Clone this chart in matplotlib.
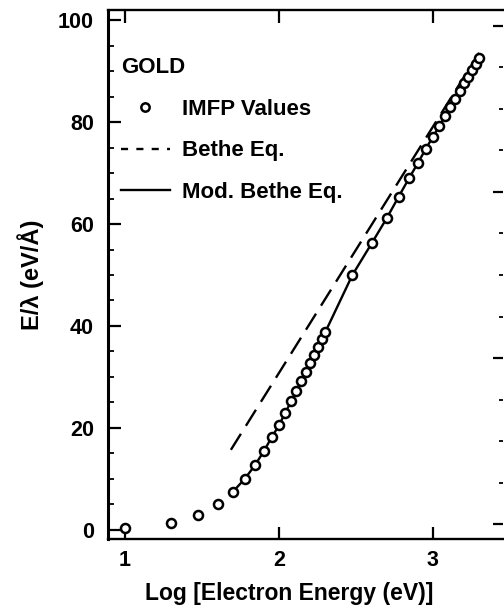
import matplotlib
matplotlib.use("Agg")
import matplotlib.pyplot as plt
from matplotlib.lines import Line2D
from matplotlib.ticker import MultipleLocator

# ---- data ----
log_energy = [1.000, 1.301, 1.477, 1.602, 1.699, 1.778, 1.845, 1.903, 1.954, 2.000,
              2.041, 2.079, 2.114, 2.146, 2.176, 2.204, 2.230, 2.255, 2.279, 2.301,
              2.477, 2.602, 2.699, 2.778, 2.845, 2.903, 2.954, 3.000, 3.041, 3.079,
              3.114, 3.146, 3.176, 3.204, 3.230, 3.255, 3.279, 3.301]
imfp_values = [0.3, 1.3, 2.9, 5.1, 7.4, 10.0, 12.7, 15.5, 18.2, 20.5,
               22.9, 25.2, 27.3, 29.3, 31.0, 32.7, 34.4, 35.9, 37.4, 38.8,
               50.0, 56.2, 61.1, 65.4, 69.0, 72.0, 74.8, 77.1, 79.2, 81.2,
               82.9, 84.6, 86.1, 87.6, 88.9, 90.2, 91.4, 92.5]

mod_bethe_x = [1.699, 1.778, 1.845, 1.903, 1.954, 2.000, 2.079, 2.146, 2.204, 2.255,
               2.301, 2.477, 2.602, 2.699, 2.778, 2.845, 2.903, 2.954, 3.000, 3.079,
               3.146, 3.204, 3.255, 3.301]
mod_bethe_y = [7.4, 10.0, 12.7, 15.5, 18.2, 20.5, 25.2, 29.3, 32.7, 35.9,
               38.8, 50.0, 56.2, 61.1, 65.4, 69.0, 72.0, 74.8, 77.1, 81.2,
               84.6, 87.6, 90.2, 92.8]

bethe_x = [1.688, 3.300]
bethe_y = [15.7, 93.6]

x_ticks = [1, 2, 3]
y_ticks = [0, 20, 40, 60, 80, 100]

title_text = "GOLD"
legend_labels = ["IMFP Values", "Bethe Eq.", "Mod. Bethe Eq."]
x_label = "Log [Electron Energy (eV)]"
y_label = "E/\u03bb (eV/\u00c5)"

plt.rcParams['font.family'] = ['Liberation Sans', 'DejaVu Sans']
plt.rcParams['font.weight'] = 'bold'
plt.rcParams['axes.labelweight'] = 'bold'

W, H = 504, 607
fig = plt.figure(figsize=(W / 100, H / 100), dpi=100)
L, R, T, B = 108, 503, 10, 539
ax = fig.add_axes([L / W, 1 - B / H, (R - L) / W, (B - T) / H])

ax.plot(bethe_x, bethe_y, color='black', lw=1.7, dashes=(8, 4))
ax.plot(mod_bethe_x, mod_bethe_y, color='black', lw=1.7)
ax.plot(log_energy, imfp_values, 'o', ms=6.5, mfc='white', mec='black', mew=1.8)

ax.set_xlim(0.89, 3.455)
ax.set_ylim(-1.8, 102)
ax.set_xticks(x_ticks)
ax.set_yticks(y_ticks)
ax.yaxis.set_minor_locator(MultipleLocator(5))
ax.tick_params(axis='both', which='major', direction='in', length=9, width=1.6,
               labelsize=15.5, top=True, right=False)
ax.tick_params(axis='y', which='minor', direction='in', length=4, width=1.3)
ax.tick_params(axis='x', pad=8)
ax.tick_params(axis='y', pad=10)
ax.spines['left'].set_linewidth(2.2)
for s in ['top', 'bottom']:
    ax.spines[s].set_linewidth(1.7)
ax.spines['right'].set_visible(False)

# right-hand secondary scale (ticks only)
ax2 = ax.twinx()
ax2.set_ylim(-0.9, 30.96)
ax2.yaxis.set_major_locator(MultipleLocator(10))
ax2.yaxis.set_minor_locator(MultipleLocator(2.5))
ax2.tick_params(axis='y', which='major', direction='in', length=7, width=1.6, labelright=False)
ax2.tick_params(axis='y', which='minor', direction='in', length=3, width=1.3)
for s in ax2.spines.values():
    s.set_visible(False)

ax.set_xlabel(x_label, fontsize=16.5, fontweight='bold')
ax.xaxis.set_label_coords((289 - L) / (R - L), -0.081)
ax.set_ylabel(y_label, fontsize=17, fontweight='bold', labelpad=10)

handles = [
    Line2D([], [], ls='none', marker='o', ms=6, mfc='white', mec='black', mew=1.8),
    Line2D([], [], color='black', lw=1.7, dashes=(3, 3.5)),
    Line2D([], [], color='black', lw=1.7),
]
leg = ax.legend(handles, legend_labels, title=title_text, loc='upper left',
                bbox_to_anchor=((121 - L) / (R - L), (B - 57) / (B - T)),
                frameon=False, fontsize=16, title_fontsize=16, alignment='left',
                handlelength=2.2, handletextpad=0.55, labelspacing=0.93,
                borderpad=0, borderaxespad=0)
leg.get_title().set_fontweight('bold')

fig.savefig("out.png", dpi=100)
